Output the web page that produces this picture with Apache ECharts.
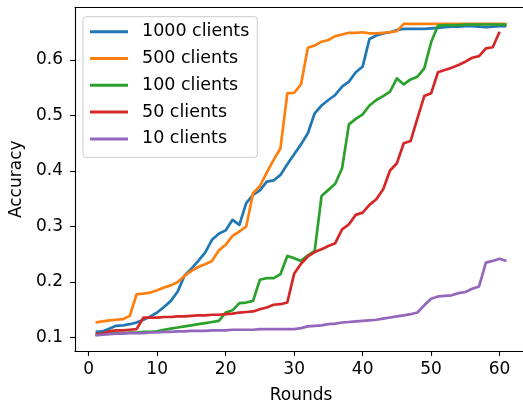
<!DOCTYPE html>
<html>
<head>
<meta charset="utf-8">
<script src="https://cdn.jsdelivr.net/npm/echarts@6/dist/echarts.min.js"></script>
<style>
html,body{margin:0;padding:0;background:#fff;}
#c{width:523px;height:402px;}
</style>
</head>
<body>
<div id="c"></div>
<script>
const seriesNames = ['1000 clients', '500 clients', '100 clients', '50 clients', '10 clients'];
const xTicks = [0, 10, 20, 30, 40, 50, 60];
const yTicks = [0.1, 0.2, 0.3, 0.4, 0.5, 0.6];

const acc1000 = [0.110,0.111,0.116,0.121,0.122,0.124,0.127,0.132,0.138,0.145,0.155,0.166,0.183,0.212,0.224,0.238,0.253,0.276,0.287,0.293,
0.312,0.303,0.342,0.357,0.365,0.381,0.383,0.393,0.412,0.430,0.448,0.468,0.504,0.518,0.528,0.537,0.552,0.561,0.578,0.588,
0.638,0.644,0.648,0.650,0.654,0.656,0.656,0.656,0.656,0.657,0.658,0.659,0.660,0.660,0.661,0.661,0.660,0.659,0.660,0.661,0.661];
const acc500 = [0.127,0.129,0.131,0.132,0.133,0.139,0.178,0.179,0.181,0.185,0.190,0.194,0.200,0.211,0.220,0.227,0.232,0.238,0.257,0.267,
0.283,0.291,0.300,0.360,0.373,0.397,0.420,0.441,0.540,0.541,0.556,0.622,0.626,0.633,0.636,0.643,0.646,0.649,0.649,0.650,
0.648,0.648,0.649,0.650,0.652,0.665,0.665,0.665,0.665,0.665,0.665,0.665,0.665,0.665,0.665,0.665,0.665,0.665,0.665,0.665,0.665];
const acc100 = [0.105,0.106,0.107,0.108,0.108,0.109,0.109,0.110,0.110,0.111,0.114,0.116,0.118,0.120,0.122,0.124,0.126,0.128,0.130,0.145,
0.149,0.162,0.163,0.166,0.204,0.207,0.207,0.214,0.247,0.243,0.238,0.248,0.256,0.355,0.366,0.377,0.405,0.484,0.494,0.502,
0.518,0.528,0.535,0.543,0.567,0.556,0.565,0.570,0.585,0.632,0.662,0.663,0.663,0.663,0.664,0.664,0.664,0.664,0.664,0.664,0.664];
const acc50 = [0.106,0.107,0.111,0.113,0.113,0.114,0.115,0.136,0.136,0.136,0.137,0.137,0.138,0.138,0.139,0.140,0.140,0.141,0.141,0.142,
0.143,0.145,0.146,0.147,0.151,0.154,0.159,0.160,0.163,0.215,0.233,0.246,0.254,0.259,0.265,0.270,0.295,0.304,0.321,0.325,
0.339,0.349,0.367,0.401,0.414,0.450,0.454,0.495,0.535,0.540,0.578,0.582,0.586,0.591,0.597,0.604,0.607,0.621,0.623,0.651];
const acc10 = [0.104,0.105,0.106,0.107,0.107,0.108,0.108,0.108,0.109,0.109,0.110,0.110,0.111,0.111,0.112,0.112,0.112,0.113,0.113,0.113,
0.114,0.114,0.114,0.114,0.115,0.115,0.115,0.115,0.115,0.115,0.117,0.120,0.121,0.122,0.124,0.125,0.127,0.128,0.129,0.130,
0.131,0.132,0.134,0.136,0.138,0.140,0.142,0.145,0.158,0.170,0.174,0.175,0.176,0.180,0.182,0.188,0.192,0.235,0.238,0.242,0.238];

const colors = ['#1f77b4', '#ff7f0e', '#2ca02c', '#d62728', '#9467bd'];
const allData = [acc1000, acc500, acc100, acc50, acc10];
const FONT = 'DejaVu Sans';
const FS = 17;

const chart = echarts.init(document.getElementById('c'), null, {renderer: 'canvas'});
chart.setOption({
  animation: false,
  backgroundColor: '#ffffff',
  grid: {left: 75, top: 7.5, width: 452, height: 343.5, outerBoundsMode: 'none', containLabel: false, show: false},
  legend: {
    orient: 'vertical',
    left: 83, top: 16.7,
    padding: [5, 8, 8.5, 7],
    itemWidth: 38, itemHeight: 3, itemGap: 6.8,
    icon: 'rect',
    backgroundColor: 'rgba(255,255,255,0.8)',
    borderColor: '#cccccc', borderWidth: 1, borderRadius: 3,
    textStyle: {fontFamily: FONT, fontSize: 17.5, color: '#000', lineHeight: 20, padding: [0, 0, 0, 9]},
    data: seriesNames
  },
  xAxis: [{
    type: 'value', min: -2, max: 64,
    name: 'Rounds', nameLocation: 'middle', nameGap: 36,
    nameTextStyle: {fontFamily: FONT, fontSize: FS, color: '#000'},
    axisLine: {show: true, onZero: false, lineStyle: {color: '#000', width: 1.1}},
    axisTick: {show: true, length: 4.9, inside: false, lineStyle: {color: '#000', width: 1.1}, customValues: xTicks},
    axisLabel: {fontFamily: FONT, fontSize: FS, color: '#000', margin: 10, customValues: xTicks, formatter: v => String(v)},
    splitLine: {show: false}
  }, {
    type: 'value', min: -2, max: 64, position: 'top',
    axisLine: {show: true, onZero: false, lineStyle: {color: '#000', width: 1.1}},
    axisTick: {show: false}, axisLabel: {show: false}, splitLine: {show: false}
  }],
  yAxis: {
    type: 'value', min: 0.0757, max: 0.6946,
    name: 'Accuracy', nameLocation: 'middle', nameGap: 50,
    nameTextStyle: {fontFamily: FONT, fontSize: FS, color: '#000'},
    axisLine: {show: true, onZero: false, lineStyle: {color: '#000', width: 1.1}},
    axisTick: {show: true, length: 4.9, inside: false, lineStyle: {color: '#000', width: 1.1}, customValues: yTicks},
    axisLabel: {fontFamily: FONT, fontSize: FS, color: '#000', margin: 12, customValues: yTicks, formatter: v => v.toFixed(1)},
    splitLine: {show: false}
  },
  series: allData.map((arr, i) => ({
    name: seriesNames[i],
    type: 'line',
    xAxisIndex: 0,
    data: arr.map((v, j) => [j + 1, v]),
    showSymbol: false,
    symbol: 'none',
    lineStyle: {color: colors[i], width: 2.7, join: 'round', cap: 'butt'},
    itemStyle: {color: colors[i]},
    clip: true
  }))
});
</script>
</body>
</html>
